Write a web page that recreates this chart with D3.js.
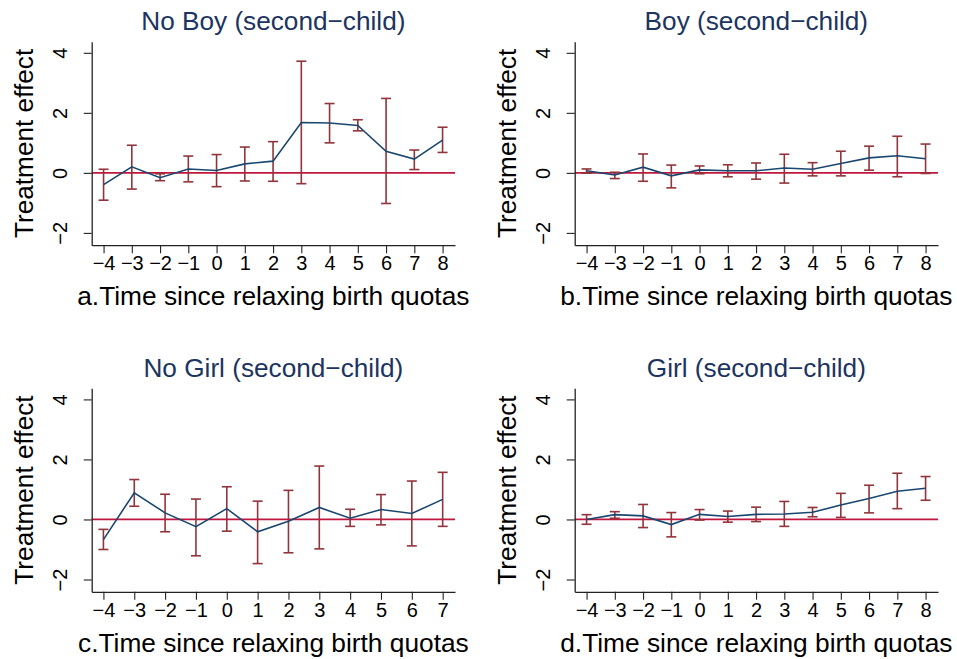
<!DOCTYPE html>
<html lang="en">
<head>
    <meta charset="UTF-8">
    <title>Treatment effect by second child</title>
    <script src="https://d3js.org/d3.v7.min.js"></script>
    <style>
        body { margin: 0; background: #fff; }
        text { font-family: "Liberation Sans", Arial, Helvetica, sans-serif; }
    </style>
</head>
<body>
<script>
    // time since relaxing birth quotas
    var periods = [-4, -3, -2, -1, 0, 1, 2, 3, 4, 5, 6, 7, 8];
    var periodsC = [-4, -3, -2, -1, 0, 1, 2, 3, 4, 5, 6, 7];
    var yTicks = [-2, 0, 2, 4];

    // a. No Boy
    var noBoyEst = [-0.39, 0.2, -0.16, 0.13, 0.08, 0.3, 0.39, 1.68, 1.66, 1.58, 0.72, 0.46, 1.09];
    var noBoyHi  = [0.12, 0.92, -0.03, 0.56, 0.61, 0.86, 1.04, 3.72, 2.31, 1.77, 2.48, 0.76, 1.52];
    var noBoyLo  = [-0.91, -0.54, -0.26, -0.3, -0.46, -0.27, -0.28, -0.36, 1.0, 1.4, -1.02, 0.11, 0.68];

    // b. Boy
    var boyEst = [0.07, -0.07, 0.19, -0.1, 0.1, 0.07, 0.07, 0.16, 0.12, 0.31, 0.5, 0.57, 0.47];
    var boyHi  = [0.13, 0.02, 0.63, 0.26, 0.23, 0.27, 0.33, 0.62, 0.34, 0.72, 0.89, 1.22, 0.96];
    var boyLo  = [-0.01, -0.19, -0.28, -0.5, -0.03, -0.13, -0.21, -0.34, -0.1, -0.1, 0.09, -0.13, -0.02];

    // c. No Girl
    var noGirlEst = [-0.67, 0.89, 0.22, -0.24, 0.36, -0.41, -0.06, 0.4, 0.04, 0.33, 0.2, 0.67];
    var noGirlHi  = [-0.33, 1.33, 0.84, 0.68, 1.09, 0.61, 0.97, 1.78, 0.34, 0.83, 1.28, 1.57];
    var noGirlLo  = [-1.0, 0.44, -0.41, -1.21, -0.39, -1.47, -1.11, -0.98, -0.23, -0.18, -0.88, -0.23];

    // d. Girl
    var girlEst = [0.0, 0.16, 0.12, -0.17, 0.17, 0.1, 0.17, 0.18, 0.24, 0.48, 0.7, 0.94, 1.04];
    var girlHi  = [0.16, 0.26, 0.5, 0.23, 0.33, 0.28, 0.41, 0.6, 0.4, 0.87, 1.14, 1.54, 1.43];
    var girlLo  = [-0.16, 0.04, -0.27, -0.58, -0.02, -0.09, -0.07, -0.23, 0.09, 0.07, 0.22, 0.36, 0.64];

    var titles = ["No Boy (second\u2212child)", "Boy (second\u2212child)",
                  "No Girl (second\u2212child)", "Girl (second\u2212child)"];
    var xTitles = ["a.Time since relaxing birth quotas", "b.Time since relaxing birth quotas",
                   "c.Time since relaxing birth quotas", "d.Time since relaxing birth quotas"];

    var width = 957;
    var height = 659;
    var plotW = 363.3;
    var plotH = 203.5;
    var colX = [91.7, 574.7];
    var rowY = [41.7, 388.3];

    var navy = "#1a476f";
    var maroon = "#90353b";
    var refRed = "#c0173e";
    var titleColor = "#1c3461";

    var svg = d3.select("body")
        .append("svg")
        .attr("width", width)
        .attr("height", height);

    var panels = [
        {x: periods, est: noBoyEst, hi: noBoyHi, lo: noBoyLo, dom: [-4.42, 8.44]},
        {x: periods, est: boyEst, hi: boyHi, lo: boyLo, dom: [-4.42, 8.44]},
        {x: periodsC, est: noGirlEst, hi: noGirlHi, lo: noGirlLo, dom: [-4.38, 7.4]},
        {x: periods, est: girlEst, hi: girlHi, lo: girlLo, dom: [-4.42, 8.44]}
    ];

    function fmt(v) {
        return v < 0 ? "\u2212" + Math.abs(v) : "" + v;
    }

    panels.forEach(function (p, i) {
        var g = svg.append("g")
            .attr("transform", "translate(" + colX[i % 2] + "," + rowY[Math.floor(i / 2)] + ")");

        var xScale = d3.scaleLinear().domain(p.dom).range([0, plotW]);
        var yScale = d3.scaleLinear().domain([-2.41, 4.37]).range([plotH, 0]);

        var rows = p.x.map(function (t, k) {
            return {t: t, est: p.est[k], hi: p.hi[k], lo: p.lo[k]};
        });

        // zero reference line
        g.append("line")
            .attr("x1", 0)
            .attr("x2", plotW)
            .attr("y1", yScale(0))
            .attr("y2", yScale(0))
            .attr("stroke", refRed)
            .attr("stroke-width", 1.8);

        // confidence intervals
        var bars = g.append("g").selectAll("g")
            .data(rows)
            .enter()
            .append("g")
            .attr("stroke", maroon)
            .attr("stroke-width", 1.6);
        bars.append("line")
            .attr("x1", d => xScale(d.t))
            .attr("x2", d => xScale(d.t))
            .attr("y1", d => yScale(d.hi))
            .attr("y2", d => yScale(d.lo));
        bars.append("line")
            .attr("x1", d => xScale(d.t) - 5)
            .attr("x2", d => xScale(d.t) + 5)
            .attr("y1", d => yScale(d.hi))
            .attr("y2", d => yScale(d.hi));
        bars.append("line")
            .attr("x1", d => xScale(d.t) - 5)
            .attr("x2", d => xScale(d.t) + 5)
            .attr("y1", d => yScale(d.lo))
            .attr("y2", d => yScale(d.lo));

        // point estimates
        var line = d3.line()
            .x(d => xScale(d.t))
            .y(d => yScale(d.est));
        g.append("path")
            .datum(rows)
            .attr("d", line)
            .attr("fill", "none")
            .attr("stroke", navy)
            .attr("stroke-width", 1.6);

        // axes
        var xAxis = d3.axisBottom(xScale).tickValues(p.x).tickSize(8).tickSizeOuter(0).tickFormat(fmt);
        var yAxis = d3.axisLeft(yScale).tickValues(yTicks).tickSize(8).tickSizeOuter(0).tickFormat(fmt);

        var gx = g.append("g")
            .attr("transform", "translate(0," + plotH + ")")
            .call(xAxis);
        gx.select(".domain").attr("stroke", "#222").attr("stroke-width", 1.3);
        gx.selectAll(".tick line").attr("stroke", "#222").attr("stroke-width", 1.1);
        gx.selectAll(".tick text")
            .attr("y", 25)
            .attr("dy", null)
            .attr("font-size", 20)
            .attr("fill", "#000");

        var gy = g.append("g").call(yAxis);
        gy.select(".domain").attr("stroke", "#222").attr("stroke-width", 1.3);
        gy.selectAll(".tick line").attr("stroke", "#222").attr("stroke-width", 1.1);
        gy.selectAll(".tick text")
            .attr("x", null)
            .attr("dy", null)
            .attr("transform", "translate(-25,0) rotate(-90)")
            .attr("text-anchor", "middle")
            .attr("font-size", 20)
            .attr("fill", "#000");

        // titles
        g.append("text")
            .attr("x", plotW / 2)
            .attr("y", -11.7)
            .attr("text-anchor", "middle")
            .attr("font-size", 26.2)
            .attr("fill", titleColor)
            .text(titles[i]);

        g.append("text")
            .attr("x", plotW / 2)
            .attr("y", plotH + 60)
            .attr("text-anchor", "middle")
            .attr("font-size", 26.3)
            .attr("fill", "#000")
            .text(xTitles[i]);

        g.append("text")
            .attr("transform", "translate(-58.4," + (plotH / 2) + ") rotate(-90)")
            .attr("text-anchor", "middle")
            .attr("font-size", 26.2)
            .attr("fill", "#000")
            .text("Treatment effect");
    });
</script>
</body>
</html>
